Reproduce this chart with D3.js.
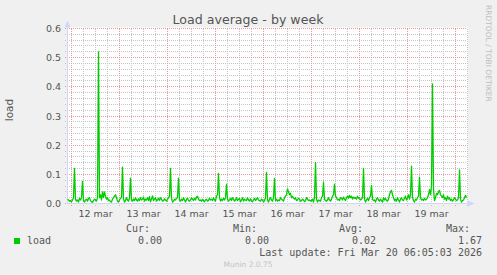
<!DOCTYPE html>
<html>
<head>
<meta charset="utf-8">
<script src="https://cdn.jsdelivr.net/npm/d3@7"></script>
<style>
  body { margin: 0; background: #f0f0f0; }
  svg { display: block; }
</style>
</head>
<body>
<div id="chart"></div>
<script>
// load average, one sample per 30 min, starting Mar 11 22:00
const loadValues = [
  // Mar 11 22:00 .. Mar 12 21:30
  .015,.012,.008,.01,.005,.012,.02,.12,.015,.008,.012,.005,.018,.012,.02,.076,
  .01,.005,.012,.015,.008,.018,.02,.01,.006,.004,.01,.015,.012,.008,.02,.52,
  .02,.03,.012,.04,.02,.04,.025,.015,.02,.01,.012,.006,.005,.015,.02,.025,
  // Mar 12 22:00 ..
  .03,.02,.008,.005,.012,.018,.02,.125,.015,.005,.01,.02,.012,.008,.018,.087,
  .012,.008,.015,.01,.02,.012,.008,.016,.01,.02,.012,.015,.022,.008,.015,.012,
  .02,.01,.024,.006,.015,.026,.01,.015,.02,.008,.012,.018,.01,.02,.015,.008,
  // Mar 13 22:00 ..
  .01,.016,.012,.008,.014,.02,.025,.12,.02,.005,.008,.015,.012,.018,.02,.087,
  .012,.008,.015,.01,.02,.012,.005,.014,.018,.01,.008,.012,.02,.015,.01,.018,
  .012,.022,.025,.015,.01,.012,.008,.014,.01,.006,.012,.015,.008,.01,.018,.012,
  // Mar 14 22:00 ..
  .015,.01,.02,.012,.008,.025,.03,.103,.02,.008,.015,.01,.018,.012,.02,.066,
  .015,.008,.012,.018,.01,.02,.015,.008,.012,.02,.01,.014,.018,.006,.012,.02,
  .008,.015,.012,.01,.02,.012,.008,.016,.01,.006,.012,.018,.01,.015,.02,.012,
  // Mar 15 22:00 ..
  .01,.008,.015,.012,.005,.01,.02,.107,.012,.005,.015,.02,.012,.008,.02,.086,
  .01,.015,.008,.012,.01,.02,.015,.012,.008,.02,.025,.03,.05,.04,.03,.035,
  .02,.025,.018,.015,.02,.01,.012,.018,.015,.008,.01,.015,.012,.006,.01,.02,
  // Mar 16 22:00 ..
  .015,.01,.012,.008,.01,.015,.005,.02,.14,.015,.005,.012,.01,.008,.02,.025,
  .072,.015,.01,.008,.012,.02,.012,.008,.015,.025,.03,.066,.025,.02,.012,.015,
  .01,.02,.018,.012,.022,.015,.01,.02,.025,.018,.028,.02,.025,.015,.022,.018,
  // Mar 17 22:00 ..
  .02,.015,.025,.018,.02,.012,.015,.02,.12,.015,.005,.012,.018,.01,.02,.025,
  .062,.015,.01,.012,.005,.015,.02,.012,.008,.015,.01,.005,.02,.012,.018,.01,
  .008,.015,.03,.04,.045,.03,.02,.01,.015,.008,.02,.012,.005,.015,.02,.012,
  // Mar 18 22:00 ..
  .01,.018,.025,.012,.02,.03,.015,.03,.128,.02,.01,.005,.015,.012,.02,.025,
  .09,.02,.012,.015,.01,.018,.012,.015,.02,.03,.048,.03,.06,.41,.05,.01,
  .02,.035,.03,.04,.045,.03,.025,.02,.03,.015,.02,.01,.025,.015,.02,.01,
  // Mar 19 22:00 .. Mar 20 05:30
  .015,.008,.012,.02,.015,.01,.012,.02,.115,.015,.005,.01,.012,.02,.028,.02
];
const yTicks = [0, 0.1, 0.2, 0.3, 0.4, 0.5, 0.6];
const dayLabels = ["12 mar", "13 mar", "14 mar", "15 mar", "16 mar", "17 mar", "18 mar", "19 mar"];
const legendHeads = ["Cur:", "Min:", "Avg:", "Max:"];
const legendValues = ["0.00", "0.00", "0.02", "1.67"];

(() => {
  const W = 497, H = 275;
  const pLeft = 67, pRight = 467, pTop = 28.5, pBottom = 203.5;
  const t0 = new Date(2026, 2, 11, 22, 0);
  const t1 = new Date(2026, 2, 20, 6, 0);

  const svg = d3.select('#chart').append('svg')
    .attr('width', W).attr('height', H)
    .style('font-family', 'DejaVu Sans, sans-serif');

  svg.append('rect').attr('width', W).attr('height', H).attr('fill', '#f0f0f0');

  let x = d3.scaleTime().domain([t0, t1]).range([pLeft, pRight]);
  let y = d3.scaleLinear().domain([0, 0.6]).range([pBottom, pTop]);

  svg.append('rect')
    .attr('x', pLeft).attr('y', pTop - 1)
    .attr('width', pRight - pLeft + 1).attr('height', pBottom - pTop + 1)
    .attr('fill', '#ffffff');

  const minorCol = '#c6c6c6', majorCol = '#e69a9a';
  let grid = svg.append('g').attr('shape-rendering', 'crispEdges');
  // minor grid
  x.ticks(d3.timeHour.every(6)).filter(d => d.getHours() != 0).forEach(d => {
    let px = Math.round(x(d)) + 0.5;
    grid.append('line').attr('x1', px).attr('x2', px).attr('y1', pTop).attr('y2', pBottom + 2)
      .attr('stroke', minorCol).attr('stroke-dasharray', '1,1');
  });
  d3.range(0.02, 0.6, 0.02).filter(v => Math.abs(v * 10 - Math.round(v * 10)) > 0.01).forEach(v => {
    let py = Math.round(y(v) - 0.5) + 0.5;
    grid.append('line').attr('x1', pLeft - 2).attr('x2', pRight).attr('y1', py).attr('y2', py)
      .attr('stroke', minorCol).attr('stroke-dasharray', '1,1');
  });
  // major grid
  x.ticks(d3.timeDay).forEach(d => {
    let px = Math.round(x(d)) + 0.5;
    grid.append('line').attr('x1', px).attr('x2', px).attr('y1', pTop).attr('y2', pBottom + 2)
      .attr('stroke', majorCol).attr('stroke-dasharray', '1,1');
  });
  yTicks.forEach(v => {
    let py = Math.round(y(v) - 0.5) + 0.5;
    grid.append('line').attr('x1', pLeft - 2).attr('x2', pRight).attr('y1', py).attr('y2', py)
      .attr('stroke', majorCol).attr('stroke-dasharray', '1,1');
  });

  // axes lines + arrows
  const axisCol = '#cfd6f8';
  svg.append('line').attr('x1', pLeft + 0.5).attr('x2', pLeft + 0.5).attr('y1', pBottom).attr('y2', 25)
    .attr('stroke', axisCol);
  svg.append('line').attr('x1', pLeft).attr('x2', 470).attr('y1', pBottom).attr('y2', pBottom)
    .attr('stroke', axisCol);
  svg.append('path').attr('d', 'M67.5,20.5 L64.5,27.5 L70.5,27.5 Z').attr('fill', axisCol);
  svg.append('path').attr('d', 'M474.5,203.5 L467.5,200.5 L467.5,206.5 Z').attr('fill', axisCol);

  // y labels
  svg.append('g').attr('transform', `translate(${pLeft - 6},0)`)
    .call(d3.axisLeft(y).tickValues(yTicks).tickFormat(d3.format('.1f')).tickSize(0).tickPadding(0))
    .call(g => g.select('.domain').remove())
    .selectAll('text').attr('fill', '#555').style('font-size', '9.5px')
    .style('font-family', 'DejaVu Sans');

  // x labels at noon
  let noons = dayLabels.map((s, i) => new Date(2026, 2, 12 + i, 12, 0));
  svg.append('g').attr('transform', `translate(0,${pBottom + 4})`)
    .call(d3.axisBottom(x).tickValues(noons).tickFormat((d, i) => dayLabels[i]).tickSize(0).tickPadding(0))
    .call(g => g.select('.domain').remove())
    .selectAll('text').attr('fill', '#555').style('font-size', '9.5px')
    .style('font-family', 'DejaVu Sans').attr('dy', '0.95em');

  // the line
  let line = d3.line()
    .x((d, i) => x(new Date(t0.getTime() + i * 1800000)) + 0.5)
    .y(d => y(d));
  svg.append('path').datum(loadValues)
    .attr('d', line).attr('fill', 'none')
    .attr('stroke', '#00cc00').attr('stroke-width', 1.3)
    .attr('stroke-linejoin', 'round');

  // title
  svg.append('text').attr('x', 248).attr('y', 24).attr('text-anchor', 'middle')
    .style('font-size', '12.6px').attr('fill', '#555').text('Load average - by week');

  svg.append('text').attr('transform', 'translate(13,110) rotate(-90)')
    .attr('text-anchor', 'middle').style('font-size', '10.5px').attr('fill', '#555').text('load');

  svg.append('text').attr('transform', 'translate(485.5,5) rotate(90)')
    .style('font-size', '7.5px').attr('fill', '#bdbdbd').text('RRDTOOL / TOBI OETIKER');

  // legend
  let mono = 'DejaVu Sans Mono, monospace';
  svg.append('rect').attr('x', 14).attr('y', 238).attr('width', 6).attr('height', 6).attr('fill', '#00cc00');
  svg.append('text').attr('x', 27).attr('y', 243.5).style('font-family', mono).style('font-size', '10px')
    .attr('fill', '#555').text('load');
  let colRight = [150, 257, 363, 470];
  let valRight = [162, 269, 376, 482];
  legendHeads.forEach((s, i) => {
    svg.append('text').attr('x', colRight[i]).attr('y', 231.5).attr('text-anchor', 'end')
      .style('font-family', mono).style('font-size', '10px').attr('fill', '#555').text(s);
    svg.append('text').attr('x', valRight[i]).attr('y', 243.5).attr('text-anchor', 'end')
      .style('font-family', mono).style('font-size', '10px').attr('fill', '#555').text(legendValues[i]);
  });
  svg.append('text').attr('x', 482).attr('y', 255.5).attr('text-anchor', 'end')
    .style('font-family', mono).style('font-size', '10px').attr('fill', '#555')
    .text('Last update: Fri Mar 20 06:05:03 2026');
  svg.append('text').attr('x', 248).attr('y', 267).attr('text-anchor', 'middle')
    .style('font-size', '7.5px').attr('fill', '#c4c4c4').text('Munin 2.0.75');
})();
</script>
</body>
</html>
